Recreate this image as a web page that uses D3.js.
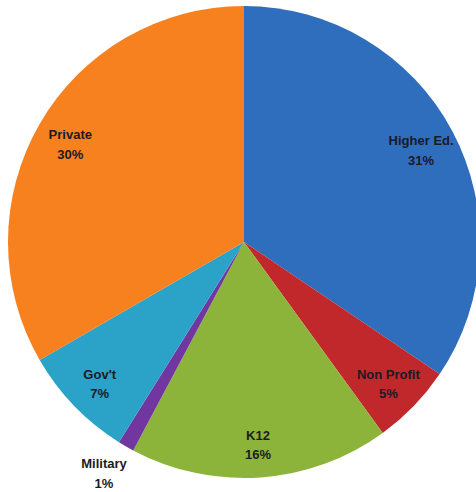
<!DOCTYPE html>
<html>
<head>
<meta charset="utf-8">
<script src="https://cdn.jsdelivr.net/npm/d3@7"></script>
<style>
  body { margin: 0; background: #fff; }
  svg text { font-family: "Liberation Sans", Arial, sans-serif; font-weight: bold; font-size: 13px; fill: #1b1b24; }
</style>
</head>
<body>
<svg width="476" height="492"></svg>
<script>
const categories = ['Higher Ed.', 'Non Profit', 'K12', 'Military', "Gov't", 'Private'];
const values = [31, 5, 16, 1, 7, 30];
const colors = ['#2f6dbd', '#c0282b', '#8db43a', '#7236a0', '#2ba3c9', '#f7801f'];

const data = categories.map((c, i) => ({ name: c, value: values[i], color: colors[i] }));

const svg = d3.select('svg');
const cx = 244, cy = 242, r = 236;

const g = svg.append('g').attr('transform', `translate(${cx},${cy})`);

const pie = d3.pie()
  .value(d => d.value)
  .sort(null);

const arc = d3.arc()
  .innerRadius(0)
  .outerRadius(r);

const arcs = pie(data);

g.selectAll('path')
  .data(arcs)
  .enter()
  .append('path')
  .attr('d', arc)
  .attr('fill', d => d.data.color);

// inside labels sit at ~0.85r, the tiny slice goes outside
const labelArc = d3.arc().innerRadius(r * 0.85).outerRadius(r * 0.85);
const outerArc = d3.arc().innerRadius(r + 28).outerRadius(r + 28);

const labels = g.selectAll('text.lbl')
  .data(arcs)
  .enter()
  .append('text')
  .attr('class', 'lbl')
  .attr('text-anchor', 'middle')
  .attr('transform', d => {
    let p = (d.data.value < 3 ? outerArc : labelArc).centroid(d);
    if (d.data.value < 3) p[0] -= 8;
    return `translate(${p[0]},${p[1]})`;
  });

labels.append('tspan')
  .attr('x', 0)
  .attr('dy', '-0.2em')
  .text(d => d.data.name);

labels.append('tspan')
  .attr('x', 0)
  .attr('dy', '1.5em')
  .text(d => d.data.value + '%');
</script>
</body>
</html>
